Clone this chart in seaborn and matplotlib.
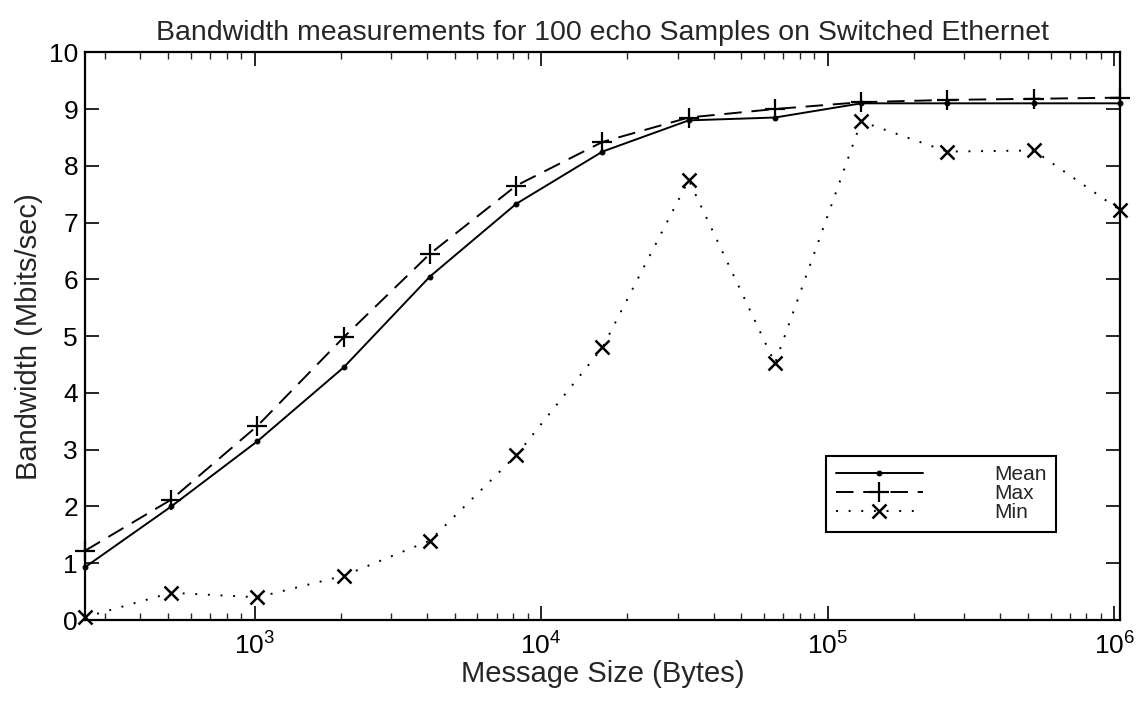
import matplotlib
matplotlib.use("Agg")
import matplotlib.pyplot as plt
import seaborn as sns
import pandas as pd
import numpy as np
from matplotlib.ticker import LogLocator, NullFormatter, LogFormatterMathtext

# Message sizes in bytes (powers of two, 256 B .. 1 MB)
sizes = [256, 512, 1024, 2048, 4096, 8192, 16384, 32768, 65536,
         131072, 262144, 524288, 1048576]

# Bandwidth in Mbits/sec
mean_bw = [0.93, 2.00, 3.15, 4.45, 6.05, 7.33, 8.25, 8.80, 8.85, 9.10, 9.10, 9.10, 9.10]
max_bw = [1.22, 2.12, 3.42, 4.98, 6.45, 7.65, 8.42, 8.85, 9.00, 9.12, 9.16, 9.18, 9.20]
min_bw = [0.05, 0.48, 0.40, 0.78, 1.40, 2.90, 4.80, 7.75, 4.52, 8.78, 8.25, 8.27, 7.22]

series_names = ["Mean", "Max", "Min"]

df = pd.DataFrame({
    "size": sizes * 3,
    "bw": mean_bw + max_bw + min_bw,
    "stat": [series_names[0]] * len(sizes) + [series_names[1]] * len(sizes)
            + [series_names[2]] * len(sizes),
})

sns.set_style("ticks")
plt.rcParams["font.family"] = ["Liberation Sans", "DejaVu Sans"]
plt.rcParams["mathtext.fontset"] = "custom"
plt.rcParams["mathtext.rm"] = "Liberation Sans"
plt.rcParams["mathtext.it"] = "Liberation Sans:italic"
plt.rcParams["mathtext.bf"] = "Liberation Sans:bold"

fig = plt.figure(figsize=(11.48, 7.01), dpi=100)
ax = fig.add_axes([0.074, 0.1155, 0.9016, 0.81])

styles = {
    "Mean": dict(linestyle="-", marker="o", markersize=3.5),
    "Max": dict(linestyle=(0, (9, 5)), marker="+", markersize=14, markeredgewidth=1.6),
    "Min": dict(linestyle=(0, (1, 5.5)), marker="x", markersize=10, markeredgewidth=1.8),
}

for name in series_names:
    sub = df[df["stat"] == name]
    sns.lineplot(data=sub, x="size", y="bw", ax=ax, color="black",
                 linewidth=1.4, label=name, clip_on=False,
                 markeredgecolor="black", markerfacecolor="black",
                 **styles[name])

ax.set_xscale("log")
ax.set_xlim(256, 1048576)
ax.set_ylim(0, 10)
ax.set_yticks(range(0, 11))

ax.xaxis.set_major_locator(LogLocator(base=10, numticks=10))
ax.xaxis.set_major_formatter(LogFormatterMathtext())
ax.xaxis.set_minor_locator(LogLocator(base=10, subs=np.arange(2, 10), numticks=20))
ax.xaxis.set_minor_formatter(NullFormatter())

ax.tick_params(axis="both", which="major", direction="in", length=10, width=1.2,
               top=True, right=True, labelsize=19, colors="black")
ax.tick_params(axis="x", which="minor", direction="in", length=5, width=1.0,
               top=True, bottom=True)
ax.tick_params(axis="x", which="major", pad=9)
ax.tick_params(axis="y", which="major", pad=5)

for sp in ax.spines.values():
    sp.set_visible(True)
    sp.set_linewidth(1.6)
    sp.set_color("black")

ax.set_title("Bandwidth measurements for 100 echo Samples on Switched Ethernet",
             fontsize=20.5, pad=9)
ax.set_xlabel("Message Size (Bytes)", fontsize=21, labelpad=0)
ax.set_ylabel("Bandwidth (Mbits/sec)", fontsize=21, labelpad=4)

leg = ax.legend(loc="lower right", bbox_to_anchor=(0.948, 0.137), frameon=True,
                fancybox=False, edgecolor="black", fontsize=15, handlelength=4.2,
                handletextpad=3.4, borderpad=0.45, labelspacing=0.0,
                markerfirst=True)
leg.get_frame().set_linewidth(1.5)
leg.get_frame().set_facecolor("white")
leg.get_frame().set_alpha(1)

fig.savefig("out.png", dpi=100, facecolor="white")
